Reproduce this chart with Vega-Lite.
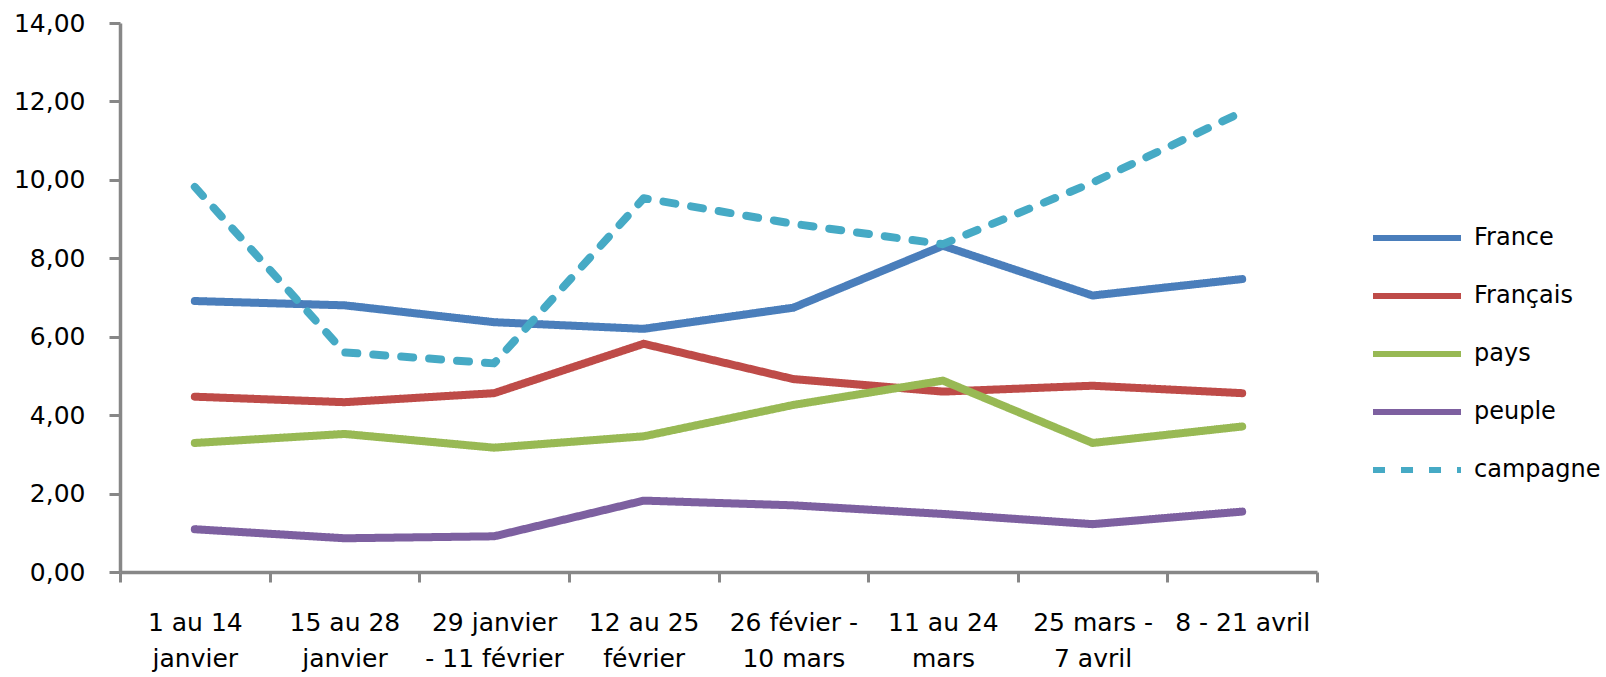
{
  "$schema": "https://vega.github.io/schema/vega-lite/v6.json",
  "autosize": {"type": "none"},
  "width": 1197,
  "height": 549,
  "padding": {"left": 120, "top": 23, "right": 289, "bottom": 105},
  "background": "white",
  "config": {"view": {"stroke": null}, "font": "DejaVu Sans"},
  "data": {"values": [
    {"periode": "1 au 14|janvier", "serie": "France", "valeur": 6.91},
    {"periode": "15 au 28|janvier", "serie": "France", "valeur": 6.80},
    {"periode": "29 janvier|- 11 février", "serie": "France", "valeur": 6.37},
    {"periode": "12 au 25|février", "serie": "France", "valeur": 6.20},
    {"periode": "26 févier -|10 mars", "serie": "France", "valeur": 6.74},
    {"periode": "11 au 24|mars", "serie": "France", "valeur": 8.32},
    {"periode": "25 mars -|7 avril", "serie": "France", "valeur": 7.05},
    {"periode": "8 - 21 avril", "serie": "France", "valeur": 7.47},
    {"periode": "1 au 14|janvier", "serie": "Français", "valeur": 4.47},
    {"periode": "15 au 28|janvier", "serie": "Français", "valeur": 4.33},
    {"periode": "29 janvier|- 11 février", "serie": "Français", "valeur": 4.56},
    {"periode": "12 au 25|février", "serie": "Français", "valeur": 5.82},
    {"periode": "26 févier -|10 mars", "serie": "Français", "valeur": 4.92},
    {"periode": "11 au 24|mars", "serie": "Français", "valeur": 4.60},
    {"periode": "25 mars -|7 avril", "serie": "Français", "valeur": 4.75},
    {"periode": "8 - 21 avril", "serie": "Français", "valeur": 4.56},
    {"periode": "1 au 14|janvier", "serie": "pays", "valeur": 3.29},
    {"periode": "15 au 28|janvier", "serie": "pays", "valeur": 3.52},
    {"periode": "29 janvier|- 11 février", "serie": "pays", "valeur": 3.17},
    {"periode": "12 au 25|février", "serie": "pays", "valeur": 3.46},
    {"periode": "26 févier -|10 mars", "serie": "pays", "valeur": 4.26},
    {"periode": "11 au 24|mars", "serie": "pays", "valeur": 4.88},
    {"periode": "25 mars -|7 avril", "serie": "pays", "valeur": 3.29},
    {"periode": "8 - 21 avril", "serie": "pays", "valeur": 3.71},
    {"periode": "1 au 14|janvier", "serie": "peuple", "valeur": 1.09},
    {"periode": "15 au 28|janvier", "serie": "peuple", "valeur": 0.86},
    {"periode": "29 janvier|- 11 février", "serie": "peuple", "valeur": 0.91},
    {"periode": "12 au 25|février", "serie": "peuple", "valeur": 1.82},
    {"periode": "26 févier -|10 mars", "serie": "peuple", "valeur": 1.70},
    {"periode": "11 au 24|mars", "serie": "peuple", "valeur": 1.48},
    {"periode": "25 mars -|7 avril", "serie": "peuple", "valeur": 1.22},
    {"periode": "8 - 21 avril", "serie": "peuple", "valeur": 1.54},
    {"periode": "1 au 14|janvier", "serie": "campagne", "valeur": 9.82},
    {"periode": "15 au 28|janvier", "serie": "campagne", "valeur": 5.60},
    {"periode": "29 janvier|- 11 février", "serie": "campagne", "valeur": 5.32},
    {"periode": "12 au 25|février", "serie": "campagne", "valeur": 9.53},
    {"periode": "26 févier -|10 mars", "serie": "campagne", "valeur": 8.88},
    {"periode": "11 au 24|mars", "serie": "campagne", "valeur": 8.36},
    {"periode": "25 mars -|7 avril", "serie": "campagne", "valeur": 9.93},
    {"periode": "8 - 21 avril", "serie": "campagne", "valeur": 11.73}
  ]},
  "mark": {"type": "line", "strokeWidth": 8, "strokeJoin": "round", "strokeCap": "round"},
  "encoding": {
    "x": {
      "field": "periode", "type": "ordinal", "bandPosition": 0.5,
      "sort": ["1 au 14|janvier", "15 au 28|janvier", "29 janvier|- 11 février", "12 au 25|février", "26 févier -|10 mars", "11 au 24|mars", "25 mars -|7 avril", "8 - 21 avril"],
      "scale": {"type": "band", "paddingInner": 0, "paddingOuter": 0},
      "axis": {
        "title": null, "labelAngle": 0, "tickBand": "extent",
        "labelExpr": "isString(datum.value) ? split(datum.value, '|') : ''",
        "labelFont": "DejaVu Sans", "labelFontSize": 25, "labelColor": "#000000",
        "labelLineHeight": 36, "labelBaseline": "alphabetic", "labelPadding": 48, "labelLimit": 0,
        "domainColor": "#878787", "domainWidth": 3.5, "tickColor": "#878787", "tickWidth": 3, "tickSize": 10
      }
    },
    "y": {
      "field": "valeur", "type": "quantitative",
      "scale": {"domain": [0, 14], "nice": false, "zero": true},
      "axis": {
        "title": null, "grid": false, "values": [0, 2, 4, 6, 8, 10, 12, 14],
        "labelExpr": "replace(format(datum.value, '.2f'), '.', ',')",
        "labelFont": "DejaVu Sans", "labelFontSize": 25, "labelColor": "#000000", "labelPadding": 24,
        "domainColor": "#878787", "domainWidth": 3.5, "tickColor": "#878787", "tickWidth": 3, "tickSize": 11
      }
    },
    "color": {
      "field": "serie", "type": "nominal",
      "scale": {"domain": ["France", "Français", "pays", "peuple", "campagne"], "range": ["#4A7EBB", "#BE4B48", "#98B954", "#7D60A0", "#46AAC5"]},
      "legend": {
        "title": null, "orient": "none", "legendX": 1279, "legendY": 197, "padding": 0,
        "symbolType": "M-3,0H3", "symbolSize": 860, "symbolStrokeWidth": 6,
        "labelFont": "DejaVu Sans", "labelFontSize": 24, "labelColor": "#000000", "labelOffset": 39, "rowPadding": 28
      }
    },
    "strokeDash": {
      "field": "serie", "type": "nominal",
      "scale": {"domain": ["France", "Français", "pays", "peuple", "campagne"], "range": [[1, 0], [1, 0], [1, 0], [1, 0], [12, 16]]},
      "legend": {
        "title": null, "orient": "none", "legendX": 1279, "legendY": 197, "padding": 0,
        "symbolType": "M-3,0H3", "symbolSize": 860, "symbolStrokeWidth": 6,
        "labelFont": "DejaVu Sans", "labelFontSize": 24, "labelColor": "#000000", "labelOffset": 39, "rowPadding": 28
      }
    }
  }
}
